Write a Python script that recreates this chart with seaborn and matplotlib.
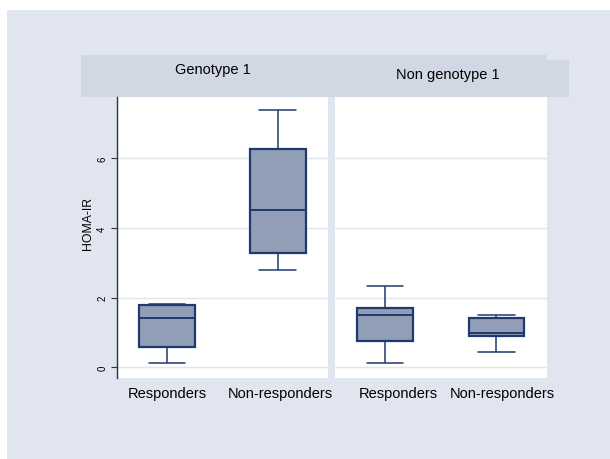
import numpy as np
import pandas as pd
import seaborn as sns
import matplotlib.pyplot as plt
from matplotlib.patches import Rectangle

# categories
panels = ["Genotype 1", "Non genotype 1"]
groups = ["Responders", "Non-responders"]

# box summaries: low whisker, q1, median, q3, high whisker
g1_responders = [0.12, 0.59, 1.41, 1.80, 1.82]
g1_nonresponders = [2.79, 3.27, 4.52, 6.27, 7.40]
ng1_responders = [0.12, 0.75, 1.50, 1.70, 2.33]
ng1_nonresponders = [0.44, 0.91, 0.98, 1.41, 1.51]

yticks = [0, 2, 4, 6]

rows = []
for panel, grp, vals in [
    (panels[0], groups[0], g1_responders),
    (panels[0], groups[1], g1_nonresponders),
    (panels[1], groups[0], ng1_responders),
    (panels[1], groups[1], ng1_nonresponders),
]:
    for v in vals:
        rows.append({"panel": panel, "group": grp, "HOMA-IR": v})
df = pd.DataFrame(rows)

#########################################
# colours (Stata s2color look)
bg = "#E1E5F0"
strip = "#D1D7E3"
grid = "#E1E5F0"
fill = "#919EB5"
navy = "#1F3A6E"

sns.set_theme(style="white")
plt.rcParams["font.family"] = ["Liberation Sans", "DejaVu Sans"]
plt.rcParams["text.color"] = "black"
plt.rcParams["xtick.color"] = "black"
plt.rcParams["ytick.color"] = "black"

W, H = 610, 460
fig = plt.figure(figsize=(6.1, 4.6), dpi=100)
fig.patch.set_facecolor("white")

def fx(px):
    return px / W

def fy(py):
    return 1 - py / H

# outer graph region and strips, behind the axes
fig.patches.append(Rectangle((fx(7), 0), 1 - fx(7), fy(11), transform=fig.transFigure,
                             facecolor=bg, edgecolor="none", zorder=-3))
fig.patches.append(Rectangle((fx(81), fy(98)), fx(546.7 - 81), (98 - 56) / H,
                             transform=fig.transFigure, facecolor=strip, edgecolor="none", zorder=-2))
fig.patches.append(Rectangle((fx(334.7), fy(98)), fx(569 - 334.7), (98 - 61) / H,
                             transform=fig.transFigure, facecolor=strip, edgecolor="none", zorder=-2))

ax1 = fig.add_axes([fx(117), fy(379), fx(327.7 - 117), (379 - 98) / H])
ax2 = fig.add_axes([fx(334.7), fy(379), fx(546.7 - 334.7), (379 - 98) / H])

label_pos = {0: [0.0, 1.02], 1: [0.12, 1.05]}

for i, (ax, panel) in enumerate(zip([ax1, ax2], panels)):
    sub = df[df["panel"] == panel]
    sns.boxplot(data=sub, x="group", y="HOMA-IR", order=groups, ax=ax,
                color=fill, saturation=1, width=0.5, whis=(0, 100),
                linecolor=navy, linewidth=1.6, showfliers=False,
                whiskerprops={"linewidth": 1.1}, capprops={"linewidth": 1.1},
                medianprops={"linewidth": 1.4}, capwidths=0.33)
    ax.set_facecolor("white")
    ax.set_xlim(-0.45, 1.45)
    ax.set_ylim(-0.31, 7.76)
    ax.set_yticks(yticks)
    ax.grid(axis="y", color=grid, linewidth=1.0)
    ax.set_axisbelow(True)
    for s in ax.spines.values():
        s.set_visible(False)
    ax.set_xlabel("")
    ax.set_ylabel("")
    ax.set_xticks(label_pos[i])
    ax.set_xticklabels(groups, fontsize=10.5, color="black")
    ax.tick_params(axis="x", length=0, pad=6)

ax1.spines["left"].set_visible(True)
ax1.spines["left"].set_color("#333333")
ax1.spines["left"].set_linewidth(1.0)
ax1.tick_params(axis="y", left=True, length=4, width=0.8, color="#333333",
                labelsize=7, pad=3)
plt.setp(ax1.get_yticklabels(), rotation=90, va="center")
ax2.tick_params(axis="y", left=False, labelleft=False)

fig.text(fx(88), fy(224), "HOMA-IR", rotation=90, ha="center", va="center", fontsize=8.8)
fig.text(fx(213), fy(70), panels[0], ha="center", va="center", fontsize=10.5)
fig.text(fx(448), fy(75), panels[1], ha="center", va="center", fontsize=10.5)

fig.savefig("out.png", dpi=100)
